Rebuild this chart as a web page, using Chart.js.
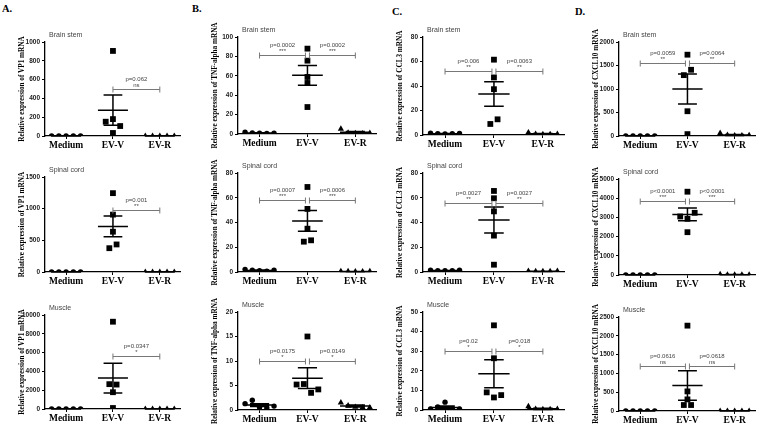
<!DOCTYPE html>
<html><head><meta charset="utf-8">
<script src="https://cdn.jsdelivr.net/npm/chart.js@4.4.1/dist/chart.umd.min.js"></script>
<style>
html,body{margin:0;padding:0;background:#fff;}
body{width:760px;height:427px;position:relative;overflow:hidden;}
canvas{position:absolute;}
.lbl{position:absolute;font:bold 10.5px "Liberation Serif","Times New Roman",serif;color:#000;line-height:1;}
</style></head><body>
<div class="lbl" style="left:2px;top:4px">A.</div>
<div class="lbl" style="left:192px;top:4px">B.</div>
<div class="lbl" style="left:392px;top:7px">C.</div>
<div class="lbl" style="left:575px;top:7px">D.</div>
<script>
// ---------- labels ----------
const categories = ['Medium', 'EV-V', 'EV-R'];
const tissues = ['Brain stem', 'Spinal cord', 'Muscle'];
const yTitles = [
  'Relative expression of VP1 mRNA',
  'Relative expression of TNF-alpha mRNA',
  'Relative expression of CCL3 mRNA',
  'Relative expression of CXCL10 mRNA'
];

// ---------- y-axis ranges (rows: Brain stem, Spinal cord, Muscle) ----------
const vp1YMax = [1000, 1500, 10000],   vp1YStep = [200, 500, 2000];
const tnfYMax = [100, 80, 20],         tnfYStep = [20, 20, 5];
const ccl3YMax = [80, 80, 50],         ccl3YStep = [20, 20, 10];
const cxcl10YMax = [2000, 5000, 2500], cxcl10YStep = [500, 1000, 500];

// ---------- individual values [Medium, EV-V, EV-R] ----------
const vp1Brain     = [[0,0,0,0,0], [905,152,180,106,32], [0,0,0,0,0]];
const vp1Spinal    = [[0,0,0,0,0], [1245,906,636,376,435], [0,0,0,0,0]];
const vp1Muscle    = [[0,0,0,0,0], [9286,2643,2600,1786,107], [0,0,0,0,0]];
const tnfBrain     = [[1.8,1.0,0.8,0.6,0.8], [88,75.6,58.8,52.6,27.8], [5.2,1.2,0.6,0.5,0.8]];
const tnfSpinal    = [[2.0,1.5,1.0,0.6,1.5], [68.7,51,35,24.5,25.6], [0.6,0.5,0.3,0.3,0.5]];
const tnfMuscle    = [[1.3,2.0,0.5,0.4,0.8], [15,5.2,5.3,3.5,4.2], [1.5,0.9,0.6,0.5,0.5]];
const ccl3Brain    = [[1.5,1.0,0.8,1.0,1.2], [61.5,47,37.4,9,12.8], [2.0,0.8,0.5,0.6,0.8]];
const ccl3Spinal   = [[1.5,1.0,1.0,1.1,1.5], [65.5,59.6,49,29.4,5.9], [0.8,0.5,0.5,0.5,0.8]];
const ccl3Muscle   = [[0.5,1.5,4,0.3,0.5], [43.2,26.4,9,6.4,7.6], [1.8,0.5,0.3,0.3,0.4]];
const cxcl10Brain  = [[0,0,0,0,0], [1730,1295,1409,527,40], [60,20,10,10,15]];
const cxcl10Spinal = [[0,0,0,0,0], [4338,3049,2927,3240,2230], [30,10,10,10,10]];
const cxcl10Muscle = [[0,0,0,0,0], [2270,521,309,159,159], [0,0,0,0,0]];

// ---------- mean and SEM [Medium, EV-V, EV-R] ----------
const vp1BrainMean = [0, 275, 0],        vp1BrainSem = [0, 160, 0];
const vp1SpinalMean = [0, 720, 0],       vp1SpinalSem = [0, 165, 0];
const vp1MuscleMean = [0, 3285, 0],      vp1MuscleSem = [0, 1590, 0];
const tnfBrainMean = [1.0, 60.5, 1.8],   tnfBrainSem = [0.3, 10.2, 0.9];
const tnfSpinalMean = [1.3, 41.3, 0.4],  tnfSpinalSem = [0.3, 8.4, 0.1];
const tnfMuscleMean = [1.0, 6.5, 0.8],   tnfMuscleSem = [0.3, 2.1, 0.2];
const ccl3BrainMean = [1.1, 33.5, 1.0],  ccl3BrainSem = [0.15, 10, 0.3];
const ccl3SpinalMean = [1.2, 42, 0.6],   ccl3SpinalSem = [0.1, 10.5, 0.1];
const ccl3MuscleMean = [1.3, 18.5, 0.6], ccl3MuscleSem = [0.7, 7.1, 0.3];
const cxcl10BrainMean = [0, 1000, 20],   cxcl10BrainSem = [0, 317, 10];
const cxcl10SpinalMean = [0, 3157, 15],  cxcl10SpinalSem = [0, 330, 5];
const cxcl10MuscleMean = [0, 676, 0],    cxcl10MuscleSem = [0, 393, 0];

// ---------- significance brackets [from, to, y, p-value, stars] ----------
const vp1BrainSig     = [[1, 2, 500, 'p=0.062', 'ns']];
const vp1SpinalSig    = [[1, 2, 985, 'p=0.001', '**']];
const vp1MuscleSig    = [[1, 2, 5680, 'p=0.0347', '*']];
const tnfBrainSig     = [[0, 1, 81, 'p=0.0002', '***'], [1, 2, 81, 'p=0.0002', '***']];
const tnfSpinalSig    = [[0, 1, 58.5, 'p=0.0007', '***'], [1, 2, 58.5, 'p=0.0006', '***']];
const tnfMuscleSig    = [[0, 1, 10, 'p=0.0175', '*'], [1, 2, 10, 'p=0.0149', '*']];
const ccl3BrainSig    = [[0, 1, 52, 'p=0.006', '**'], [1, 2, 52, 'p=0.0063', '**']];
const ccl3SpinalSig   = [[0, 1, 55.8, 'p=0.0027', '**'], [1, 2, 55.8, 'p=0.0027', '**']];
const ccl3MuscleSig   = [[0, 1, 30, 'p=0.02', '*'], [1, 2, 30, 'p=0.018', '*']];
const cxcl10BrainSig  = [[0, 1, 1560, 'p=0.0059', '**'], [1, 2, 1560, 'p=0.0064', '**']];
const cxcl10SpinalSig = [[0, 1, 3870, 'p<0.0001', '***'], [1, 2, 3870, 'p<0.0001', '***']];
const cxcl10MuscleSig = [[0, 1, 1200, 'p=0.0616', 'ns'], [1, 2, 1200, 'p=0.0618', 'ns']];

// ---------- page layout (pixels) ----------
const colAxisX = [45, 238, 423, 619];
const colRight = [182, 378, 566, 757];
const plotTop = [[42,177,315],[37,173,312],[37,173,312],[42,179,317]];
const plotBottom = [[136,272,409],[134,272,410],[135,272,410],[136,275,411]];
const PAD_TOP = 24, PAD_BOTTOM = 10, X_AXIS_H = 22, Y_AXIS_W = 45;

const panels = [
  [0,0,vp1Brain,vp1BrainMean,vp1BrainSem,vp1BrainSig,vp1YMax[0],vp1YStep[0]],
  [0,1,vp1Spinal,vp1SpinalMean,vp1SpinalSem,vp1SpinalSig,vp1YMax[1],vp1YStep[1]],
  [0,2,vp1Muscle,vp1MuscleMean,vp1MuscleSem,vp1MuscleSig,vp1YMax[2],vp1YStep[2]],
  [1,0,tnfBrain,tnfBrainMean,tnfBrainSem,tnfBrainSig,tnfYMax[0],tnfYStep[0]],
  [1,1,tnfSpinal,tnfSpinalMean,tnfSpinalSem,tnfSpinalSig,tnfYMax[1],tnfYStep[1]],
  [1,2,tnfMuscle,tnfMuscleMean,tnfMuscleSem,tnfMuscleSig,tnfYMax[2],tnfYStep[2]],
  [2,0,ccl3Brain,ccl3BrainMean,ccl3BrainSem,ccl3BrainSig,ccl3YMax[0],ccl3YStep[0]],
  [2,1,ccl3Spinal,ccl3SpinalMean,ccl3SpinalSem,ccl3SpinalSig,ccl3YMax[1],ccl3YStep[1]],
  [2,2,ccl3Muscle,ccl3MuscleMean,ccl3MuscleSem,ccl3MuscleSig,ccl3YMax[2],ccl3YStep[2]],
  [3,0,cxcl10Brain,cxcl10BrainMean,cxcl10BrainSem,cxcl10BrainSig,cxcl10YMax[0],cxcl10YStep[0]],
  [3,1,cxcl10Spinal,cxcl10SpinalMean,cxcl10SpinalSem,cxcl10SpinalSig,cxcl10YMax[1],cxcl10YStep[1]],
  [3,2,cxcl10Muscle,cxcl10MuscleMean,cxcl10MuscleSem,cxcl10MuscleSig,cxcl10YMax[2],cxcl10YStep[2]]
];

const X_MIN = -0.45, X_MAX = 2.45;
const SANS = '"Liberation Sans", Arial, sans-serif';
const SERIF = '"Liberation Serif", "Times New Roman", serif';

// spread overlapping markers horizontally (scatter-dot style), keeping array order left to right
function swarm(values, center, pxPerY, unitPerPxX) {
  const order = values.map((v, i) => i).sort((a, b) => values[b] - values[a]);
  const clusters = []; let cur = [];
  order.forEach(i => {
    if (cur.length && (values[cur[cur.length - 1]] - values[i]) * pxPerY >= 5.5) { clusters.push(cur); cur = []; }
    cur.push(i);
  });
  if (cur.length) clusters.push(cur);
  const out = new Array(values.length);
  clusters.forEach(c => {
    c.sort((a, b) => a - b);
    const n = c.length;
    c.forEach((i, k) => { out[i] = { x: center + (k - (n - 1) / 2) * 7.3 * unitPerPxX, y: values[i] }; });
  });
  return out;
}

const decorPlugin = {
  id: 'decor',
  afterDatasetsDraw(chart) {
    const o = chart.options.plugins.decor;
    const ctx = chart.ctx, sx = chart.scales.x, sy = chart.scales.y;
    ctx.save();
    ctx.strokeStyle = '#000'; ctx.lineWidth = 1.5; ctx.lineCap = 'butt';
    o.mean.forEach((m, i) => {
      const s = o.sem[i];
      const yM = sy.getPixelForValue(m);
      ctx.beginPath();
      ctx.moveTo(sx.getPixelForValue(i - 0.32), yM); ctx.lineTo(sx.getPixelForValue(i + 0.32), yM);
      if (s > 0) {
        const yT = sy.getPixelForValue(m + s), yB = sy.getPixelForValue(m - s), xc = sx.getPixelForValue(i);
        ctx.moveTo(xc, yT); ctx.lineTo(xc, yB);
        ctx.moveTo(sx.getPixelForValue(i - 0.2), yT); ctx.lineTo(sx.getPixelForValue(i + 0.2), yT);
        ctx.moveTo(sx.getPixelForValue(i - 0.2), yB); ctx.lineTo(sx.getPixelForValue(i + 0.2), yB);
      }
      ctx.stroke();
    });
    o.sig.forEach(([a, b, yv, ptxt, stars]) => {
      let x1 = sx.getPixelForValue(a), x2 = sx.getPixelForValue(b);
      if (o.sig.length > 1) { if (a === 1) x1 += 2; if (b === 1) x2 -= 2; }
      const y = Math.round(sy.getPixelForValue(yv)) + 0.5;
      ctx.strokeStyle = '#777'; ctx.lineWidth = 1;
      ctx.beginPath();
      ctx.moveTo(x1, y); ctx.lineTo(x2, y);
      ctx.moveTo(x1, y - 3); ctx.lineTo(x1, y + 3);
      ctx.moveTo(x2, y - 3); ctx.lineTo(x2, y + 3);
      ctx.stroke();
      ctx.fillStyle = '#444'; ctx.textAlign = 'center'; ctx.textBaseline = 'middle';
      ctx.font = '6px ' + SANS;
      ctx.fillText(ptxt, (x1 + x2) / 2, y - 10);
      ctx.fillText(stars, (x1 + x2) / 2, y - 4);
    });
    ctx.restore();
  },
  afterDraw(chart) {
    const o = chart.options.plugins.decor;
    const ctx = chart.ctx, ca = chart.chartArea;
    ctx.save();
    ctx.fillStyle = '#444'; ctx.font = '7px ' + SANS; ctx.textAlign = 'left'; ctx.textBaseline = 'middle';
    ctx.fillText(o.title, ca.left + 4, ca.top - 7);
    ctx.translate(ca.left - 23, (ca.top + ca.bottom) / 2);
    ctx.rotate(-Math.PI / 2);
    ctx.fillStyle = '#000'; ctx.font = 'bold 7.2px ' + SERIF; ctx.textAlign = 'center';
    ctx.fillText(o.yTitle, 0, 0);
    ctx.restore();
  }
};

panels.forEach(([col, row, pts, mean, sem, sig, yMax, yStep]) => {
  const pt = plotTop[col][row], pb = plotBottom[col][row];
  const left = colAxisX[col] - Y_AXIS_W, top = pt - PAD_TOP;
  const W = colRight[col] + 3 - left, H = pb - pt + PAD_TOP + X_AXIS_H + PAD_BOTTOM;
  const cv = document.createElement('canvas');
  cv.width = W; cv.height = H;
  cv.style.left = left + 'px'; cv.style.top = top + 'px';
  cv.style.width = W + 'px'; cv.style.height = H + 'px';
  document.body.appendChild(cv);
  const plotW = colRight[col] - colAxisX[col], plotH = pb - pt;
  const pxPerY = plotH / yMax, unitPerPxX = (X_MAX - X_MIN) / plotW;
  const styles = [['circle', 2.7], ['rect', 4.1], ['triangle', 3.6]];
  const datasets = pts.map((vals, g) => ({
    label: categories[g],
    data: swarm(vals, g, pxPerY, unitPerPxX),
    pointStyle: styles[g][0], pointRadius: styles[g][1], pointHoverRadius: styles[g][1],
    backgroundColor: '#000', borderColor: '#000', borderWidth: 0
  }));
  new Chart(cv, {
    type: 'scatter',
    data: { datasets },
    plugins: [decorPlugin],
    options: {
      responsive: false, animation: false, devicePixelRatio: 1,
      layout: { padding: { top: PAD_TOP, right: 3, left: 0, bottom: PAD_BOTTOM } },
      events: [],
      plugins: {
        legend: { display: false }, tooltip: { enabled: false },
        decor: { mean, sem, sig, title: tissues[row], yTitle: yTitles[col] }
      },
      scales: {
        x: {
          type: 'linear', min: X_MIN, max: X_MAX,
          afterBuildTicks: s => { s.ticks = [0, 1, 2].map(v => ({ value: v })); },
          ticks: { callback: v => categories[v], font: { family: SERIF, size: 9.5, weight: 'bold' }, color: '#000', padding: 1, maxRotation: 0, autoSkip: false },
          grid: { display: true, drawOnChartArea: false, drawTicks: true, tickLength: 3, color: '#000', lineWidth: 1 },
          border: { display: true, color: '#000', width: 1.3 },
          afterFit: s => { s.height = X_AXIS_H; }
        },
        y: {
          type: 'linear', min: 0, max: yMax,
          ticks: { stepSize: yStep, callback: v => String(v), font: { family: SANS, size: 6.5, weight: 'bold' }, color: '#222', padding: 2 },
          grid: { display: true, drawOnChartArea: false, drawTicks: true, tickLength: 3, color: '#000', lineWidth: 1 },
          border: { display: true, color: '#000', width: 1.3 },
          afterFit: s => { s.width = Y_AXIS_W; }
        }
      }
    }
  });
});
</script>
</body></html>
